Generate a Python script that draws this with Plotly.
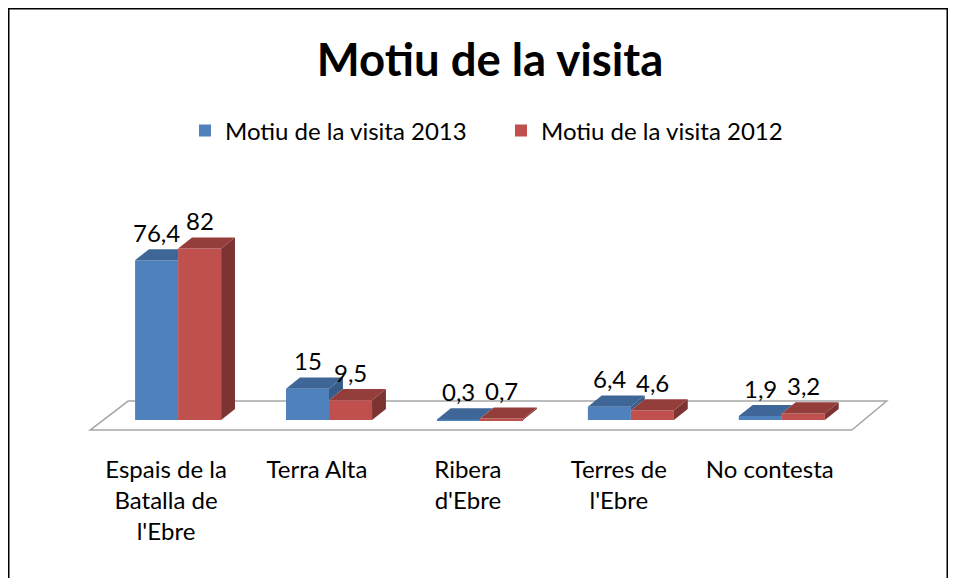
import plotly.graph_objects as go

# --- data ---
categories = ["Espais de la<br>Batalla de<br>l'Ebre", "Terra Alta", "Ribera<br>d'Ebre",
              "Terres de<br>l'Ebre", "No contesta"]
visita_2013 = [76.4, 15, 0.3, 6.4, 1.9]
visita_2012 = [82, 9.5, 0.7, 4.6, 3.2]
series_names = ["Motiu de la visita 2013", "Motiu de la visita 2012"]

# --- style ---
FONT = "Lato"
BLUE, BLUE_TOP, BLUE_SIDE = "#4F81BD", "#3E6696", "#375C88"
RED, RED_TOP, RED_SIDE = "#C0504D", "#943E3C", "#7D3331"
W = 0.285            # width of one bar (x units)
DX, DY = 0.092, 5.3  # 3D depth offset (x units, value units)

W_PX, H_PX = 940, 578
M_L, M_R, M_T, M_B = 72, 53, 161, 145
X_RANGE = [-0.65, 4.75]
Y_RANGE = [-10, 120]

idx = list(range(len(categories)))


def poly(pts, color):
    xs = [p[0] for p in pts] + [pts[0][0]]
    ys = [p[1] for p in pts] + [pts[0][1]]
    return go.Scatter(x=xs, y=ys, fill="toself", fillcolor=color, mode="lines",
                      line=dict(width=0, color=color), hoverinfo="skip",
                      showlegend=False)


fig = go.Figure()

# front faces
fig.add_trace(go.Bar(x=idx, y=visita_2013, width=W, offset=-W, name=series_names[0],
                     marker=dict(color=BLUE, line=dict(width=0))))
fig.add_trace(go.Bar(x=idx, y=visita_2012, width=W, offset=0, name=series_names[1],
                     marker=dict(color=RED, line=dict(width=0))))

# tops and sides (only the parts not hidden by the neighbouring bar)
k = DY / DX
for i, b, r in zip(idx, visita_2013, visita_2012):
    xl, xr, xe = i - W, i, i + W
    if b > r:
        fig.add_trace(poly([(xr, r), (xr + DX, r + DY), (xr + DX, b + DY), (xr, b)], BLUE_SIDE))
        fig.add_trace(poly([(xl, b), (xr, b), (xr + DX, b + DY), (xl + DX, b + DY)], BLUE_TOP))
    elif r >= b + DY:
        fig.add_trace(poly([(xl, b), (xr, b), (xr, b + DY), (xl + DX, b + DY)], BLUE_TOP))
    else:
        fig.add_trace(poly([(xl, b), (xr, b), (xr, r), (xr + (b + DY - r) / k, b + DY),
                            (xl + DX, b + DY)], BLUE_TOP))
    fig.add_trace(poly([(xe, 0), (xe + DX, DY), (xe + DX, r + DY), (xe, r)], RED_SIDE))
    fig.add_trace(poly([(xr, r), (xe, r), (xe + DX, r + DY), (xr + DX, r + DY)], RED_TOP))

# data labels
for vals, off in ((visita_2013, -W / 2), (visita_2012, W / 2)):
    for i, v in zip(idx, vals):
        fig.add_annotation(x=i + off, y=v, text=f"{v:g}".replace(".", ","),
                           showarrow=False, yanchor="middle", yshift=28,
                           font=dict(family=FONT, size=24, color="black"))

# floor of the 3D plot
fig.add_shape(type="path", xref="x", yref="y", layer="below",
              path="M -0.583,-4.8 L -0.331,9.1 L 4.695,9.1 L 4.464,-4.8 Z",
              line=dict(color="#A6A6A6", width=1.5), fillcolor="white")

# chart border along the figure edge
pw = W_PX - M_L - M_R
ph = H_PX - M_T - M_B
fig.add_shape(type="rect", xref="paper", yref="paper",
              x0=(0.75 - M_L) / pw, x1=(W_PX - 0.75 - M_L) / pw,
              y0=(H_PX - M_B - 600) / ph, y1=(H_PX - M_B - 0.75) / ph,
              line=dict(color="black", width=1.5))

fig.update_layout(
    width=W_PX, height=H_PX,
    margin=dict(l=M_L, r=M_R, t=M_T, b=M_B),
    paper_bgcolor="white", plot_bgcolor="white",
    barmode="overlay",
    font=dict(family=FONT, size=24, color="black"),
    title=dict(text="<b>Motiu de la visita</b>", x=482 / W_PX, xanchor="center",
               xref="container", yref="container", y=1 - 52 / H_PX, yanchor="middle",
               font=dict(family=FONT, size=45.5, color="black")),
    legend=dict(orientation="h", xref="container", yref="container",
                x=177 / W_PX, xanchor="left", y=1 - 123 / H_PX, yanchor="middle",
                entrywidth=271, entrywidthmode="pixels",
                font=dict(family=FONT, size=24, color="black")),
    xaxis=dict(range=X_RANGE, tickvals=[i - 0.08 for i in idx], ticktext=categories,
               showgrid=False, zeroline=False, showline=False, ticks="",
               ticklabelstandoff=12, tickfont=dict(family=FONT, size=24)),
    yaxis=dict(range=Y_RANGE, showgrid=False, zeroline=False, showline=False,
               showticklabels=False, ticks=""),
)

fig.write_html("out.html")
